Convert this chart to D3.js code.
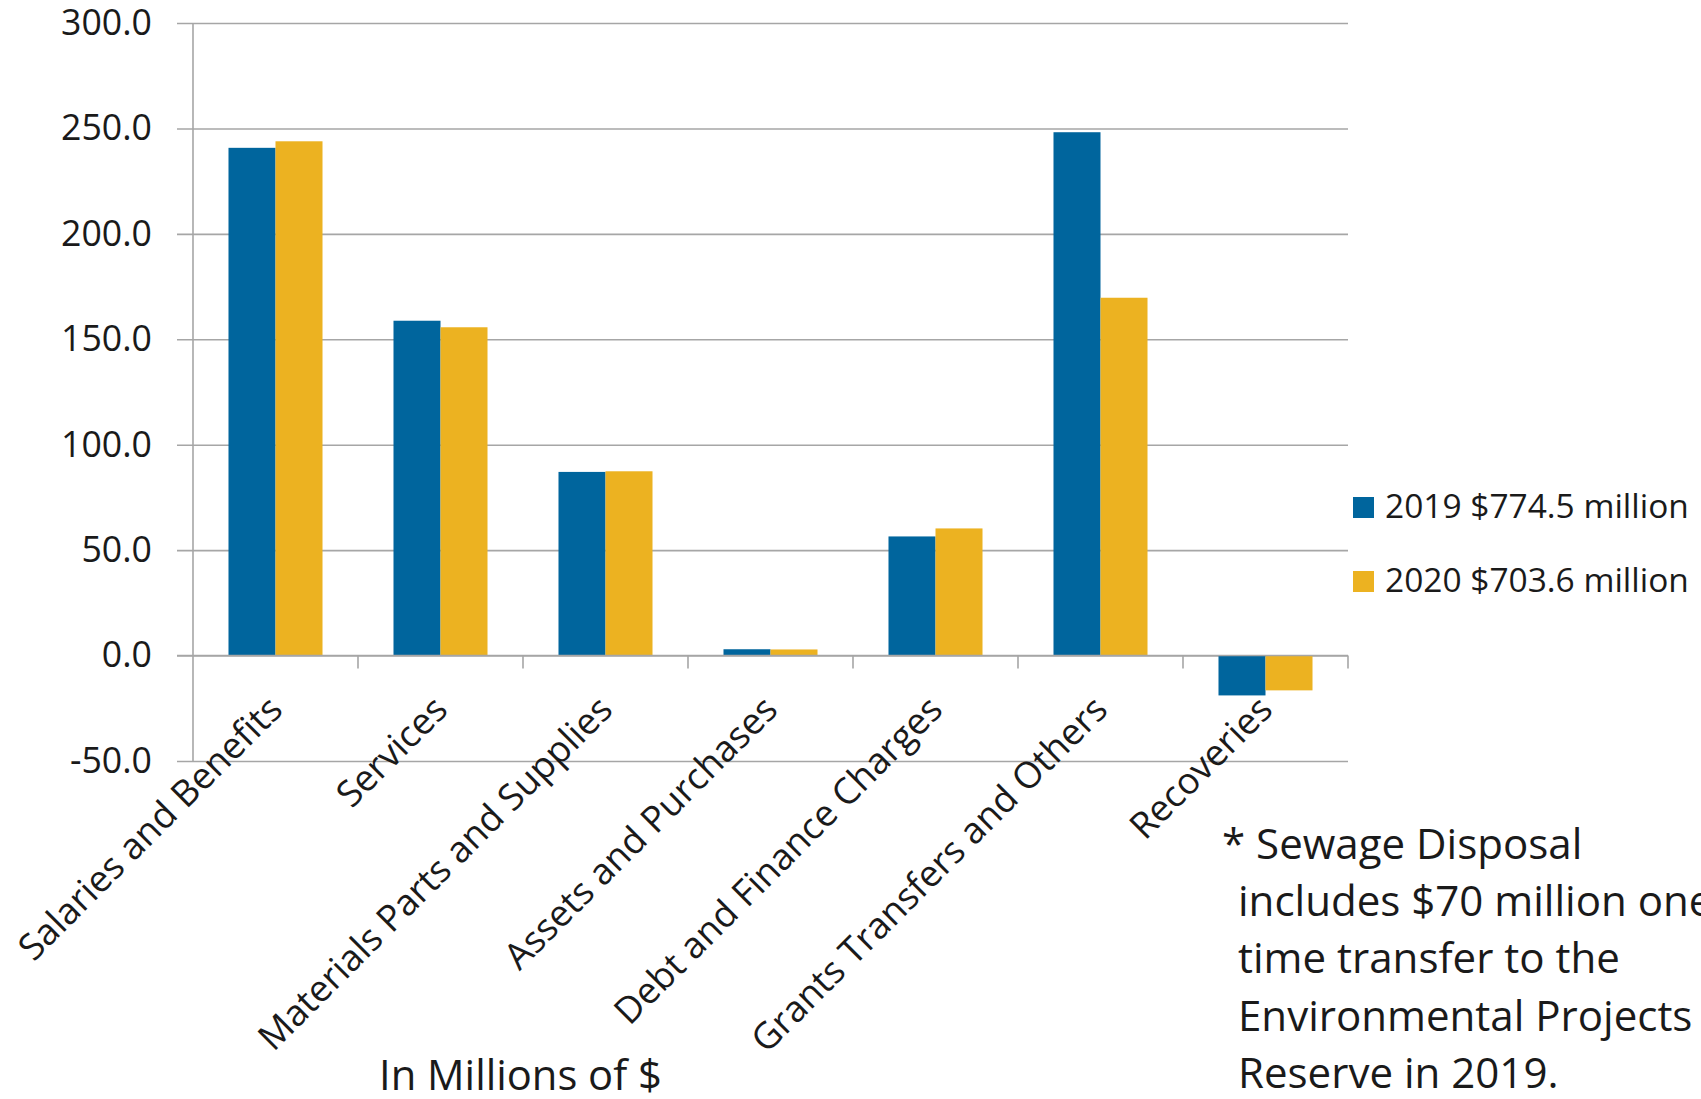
<!DOCTYPE html>
<html>
<head>
<meta charset="utf-8">
<script src="https://cdn.jsdelivr.net/npm/d3@7"></script>
<style>
  html, body { margin: 0; padding: 0; background: #ffffff; }
  svg { display: block; }
  text { font-family: "Open Sans", "Noto Sans", sans-serif; fill: #1a1a1a; }
</style>
</head>
<body>
<svg id="chart" width="1701" height="1099"></svg>
<script>
// Expenditure categories (in millions of dollars)
const categories = [
  "Salaries and Benefits",
  "Services",
  "Materials Parts and Supplies",
  "Assets and Purchases",
  "Debt and Finance Charges",
  "Grants Transfers and Others",
  "Recoveries"
];
const values2019 = [240.8, 158.8, 87.1, 3.0, 56.5, 248.2, -18.9];
const values2020 = [243.9, 155.7, 87.4, 2.9, 60.3, 169.7, -16.5];
const seriesKeys = ["2019", "2020"];
const seriesLabels = ["2019 $774.5 million", "2020 $703.6 million"];
const seriesColors = ["#00659d", "#ecb221"];
const yTicks = [-50, 0, 50, 100, 150, 200, 250, 300];
const axisTitle = "In Millions of $";
const footnoteLines = [
  "* Sewage Disposal",
  "includes $70 million one",
  "time transfer to the",
  "Environmental Projects",
  "Reserve in 2019."
];

const svg = d3.select("#chart");
svg.append("rect").attr("width", 1701).attr("height", 1099).attr("fill", "#fff");

// font size that makes a string span a given width
function fitSize(str, target) {
  const t = svg.append("text").attr("font-size", 100).text(str);
  const w = t.node().getComputedTextLength();
  t.remove();
  return 100 * target / w;
}

const plot = { left: 193, right: 1348, top: 23, bottom: 761 };
const gridStart = 177;

const y = d3.scaleLinear().domain([-50, 300]).range([plot.bottom, plot.top]);
const x0 = d3.scaleBand().domain(categories).range([plot.left, plot.right]).padding(0);
const x1 = d3.scaleBand().domain(seriesKeys).range([0, x0.bandwidth()])
  .paddingInner(0).paddingOuter(0.755);

const rows = categories.map((c, i) => ({ cat: c, vals: [values2019[i], values2020[i]] }));

// horizontal gridlines and value labels
const fmt = d3.formatLocale({ decimal: ".", thousands: ",", grouping: [3], currency: ["$", ""], minus: "-" }).format(".1f");
const tickFont = fitSize("300.0", 91);
const yAxis = svg.append("g")
  .attr("transform", `translate(${gridStart},0)`)
  .call(d3.axisLeft(y).tickValues(yTicks).tickFormat(fmt)
    .tickSize(-(plot.right - gridStart)).tickPadding(25));
yAxis.select(".domain").remove();
yAxis.selectAll(".tick line").attr("stroke", "#a6a6a6").attr("stroke-width", 1.6);
yAxis.selectAll(".tick text")
  .attr("font-size", tickFont)
  .attr("font-family", "'Open Sans', sans-serif")
  .attr("fill", "#1a1a1a");

// vertical axis line
svg.append("line")
  .attr("x1", plot.left).attr("x2", plot.left)
  .attr("y1", plot.top).attr("y2", plot.bottom)
  .attr("stroke", "#a6a6a6").attr("stroke-width", 1.6);

// bars
const groups = svg.append("g").selectAll("g").data(rows).join("g")
  .attr("transform", d => `translate(${x0(d.cat)},0)`);
groups.selectAll("rect")
  .data(d => d.vals.map((v, k) => ({ key: seriesKeys[k], v, k })))
  .join("rect")
  .attr("x", d => x1(d.key))
  .attr("width", x1.bandwidth())
  .attr("y", d => y(Math.max(0, d.v)))
  .attr("height", d => Math.abs(y(d.v) - y(0)))
  .attr("fill", d => seriesColors[d.k]);

// category axis along zero
const catFont = fitSize("Salaries and Benefits", 355);
const xAxis = svg.append("g")
  .attr("transform", `translate(0,${y(0)})`)
  .call(d3.axisBottom(x0).tickSize(0).tickPadding(0));
xAxis.select(".domain")
  .attr("d", `M${gridStart},0H${plot.right}`)
  .attr("stroke", "#a6a6a6").attr("stroke-width", 1.6);
xAxis.selectAll(".tick text")
  .attr("font-size", catFont)
  .attr("font-family", "'Open Sans', sans-serif")
  .attr("fill", "#1a1a1a")
  .attr("text-anchor", "end")
  .attr("y", null).attr("dy", null)
  .attr("transform", "translate(9,56) rotate(-45)");

// category boundary ticks
xAxis.append("g").selectAll("line").data(categories).join("line")
  .attr("x1", d => x0(d) + x0.bandwidth()).attr("x2", d => x0(d) + x0.bandwidth())
  .attr("y1", 0).attr("y2", 13)
  .attr("stroke", "#a6a6a6").attr("stroke-width", 1.6);

// axis title
svg.append("text")
  .attr("x", 379).attr("y", 1090)
  .attr("font-size", fitSize(axisTitle, 283))
  .text(axisTitle);

// legend
const legFont = fitSize(seriesLabels[0], 304);
const legend = svg.append("g").selectAll("g").data(seriesLabels).join("g")
  .attr("transform", (d, i) => `translate(1353,${497 + i * 74})`);
legend.append("rect").attr("width", 21).attr("height", 21)
  .attr("fill", (d, i) => seriesColors[i]);
legend.append("text").attr("x", 32).attr("y", 21)
  .attr("font-size", legFont).text(d => d);

// footnote
const noteFont = fitSize(footnoteLines[2], 382);
svg.append("g").selectAll("text").data(footnoteLines).join("text")
  .attr("x", (d, i) => i === 0 ? 1222 : 1238)
  .attr("y", (d, i) => 859 + i * 57.2)
  .attr("font-size", noteFont)
  .text(d => d);
</script>
</body>
</html>
